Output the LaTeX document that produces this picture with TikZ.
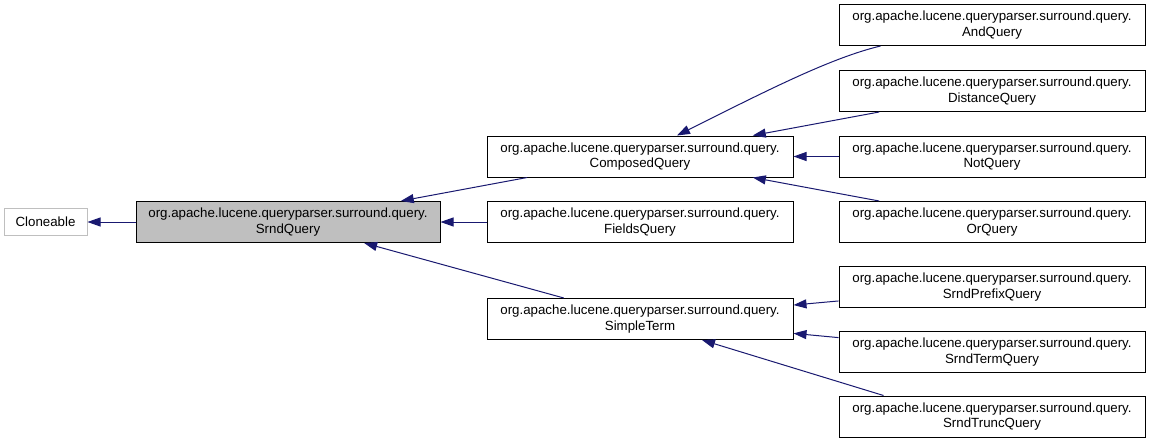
\documentclass[tikz,border=0pt]{standalone}
\usepackage{fontspec}
\setmainfont{Liberation Sans}
\usetikzlibrary{arrows.meta,calc}
\definecolor{midblue}{HTML}{191970}

\begin{document}
\begin{tikzpicture}[x=1pt,y=-1pt,cls/.style={draw=black,line width=1pt,fill=white,minimum width=306pt,minimum height=41pt,inner sep=0pt,align=center,font=\fontsize{13.3}{15.5}\selectfont},a/.style={-{Triangle[length=13pt,width=9pt]},draw=midblue,line width=1pt}]
\useasboundingbox (0,0) rectangle (1149,444);
\node[cls,draw=black!25,minimum width=83pt,minimum height=27pt] (cloneable) at (45.5,222) {Cloneable};
\node[cls,fill=black!25,minimum width=304pt] (srnd) at (288,222) {org.apache.lucene.queryparser.surround.query.\\SrndQuery};
\node[cls] (compq) at (640,156.5) {org.apache.lucene.queryparser.surround.query.\\ComposedQuery};
\node[cls] (fieldsq) at (640,222) {org.apache.lucene.queryparser.surround.query.\\FieldsQuery};
\node[cls] (simplet) at (640,319) {org.apache.lucene.queryparser.surround.query.\\SimpleTerm};
\node[cls] (andq) at (992,25) {org.apache.lucene.queryparser.surround.query.\\AndQuery};
\node[cls] (distq) at (992,91) {org.apache.lucene.queryparser.surround.query.\\DistanceQuery};
\node[cls] (notq) at (992,156.5) {org.apache.lucene.queryparser.surround.query.\\NotQuery};
\node[cls] (orq) at (992,222) {org.apache.lucene.queryparser.surround.query.\\OrQuery};
\node[cls] (prefixq) at (992,287) {org.apache.lucene.queryparser.surround.query.\\SrndPrefixQuery};
\node[cls] (termq) at (992,352) {org.apache.lucene.queryparser.surround.query.\\SrndTermQuery};
\node[cls] (truncq) at (992,416.5) {org.apache.lucene.queryparser.surround.query.\\SrndTruncQuery};
\draw[a] (srnd)--(cloneable);
\draw[a] (compq)--(srnd); \draw[a] (fieldsq)--(srnd); \draw[a] (simplet)--(srnd);
\draw[a] ($(andq.south west)+(42,0)$) .. controls +(-50,12) and +(90,-45) .. ($(compq.north)+(37,0)$);
\draw[a] (distq)--(compq); \draw[a] (notq)--(compq); \draw[a] (orq)--(compq);
\draw[a] (prefixq)--(simplet); \draw[a] (termq)--(simplet);
\draw[a] ($(truncq.north west)+(45,0)$)--($(simplet.south)+(62,0)$);
\end{tikzpicture}
\end{document}
